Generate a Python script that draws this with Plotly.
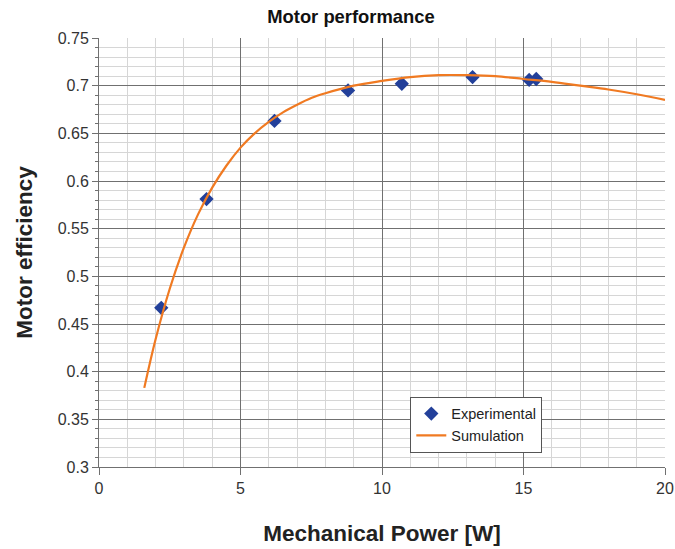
import plotly.graph_objects as go

# Experimental data
exp_power = [2.2, 3.8, 6.2, 8.8, 10.7, 13.2, 15.2, 15.45]
exp_eff = [0.467, 0.581, 0.663, 0.695, 0.702, 0.709, 0.706, 0.707]

# Simulation curve
sim_power = [1.6, 2.0, 2.5, 3.0, 3.5, 4.0, 4.5, 5.0, 5.5, 6.0, 6.5, 7.0,
             7.5, 8.0, 9.0, 10.0, 11.0, 12.0, 13.0, 14.0, 15.0, 16.0, 17.0,
             18.0, 19.0, 20.0]
sim_eff = [0.383, 0.434, 0.487, 0.530, 0.565, 0.593, 0.616, 0.635, 0.650,
           0.662, 0.672, 0.680, 0.687, 0.692, 0.700, 0.705, 0.709, 0.711, 0.711,
           0.710, 0.707, 0.704, 0.700, 0.696, 0.691, 0.685]

x_ticks = [0, 5, 10, 15, 20]
y_ticks = [0.3, 0.35, 0.4, 0.45, 0.5, 0.55, 0.6, 0.65, 0.7, 0.75]
y_tick_text = ["0.3", "0.35", "0.4", "0.45", "0.5", "0.55", "0.6", "0.65", "0.7", "0.75"]

FONT = "Liberation Sans, Arial, sans-serif"

fig = go.Figure()
fig.add_trace(go.Scatter(
    x=exp_power, y=exp_eff, mode="markers", name="Experimental",
    marker=dict(symbol="diamond", size=11, color="#23409a"),
))
fig.add_trace(go.Scatter(
    x=sim_power, y=sim_eff, mode="lines", name="Sumulation",
    line=dict(color="#f07a22", width=2.2, shape="spline", smoothing=1.0),
))

fig.update_layout(
    width=675, height=549,
    margin=dict(l=99, r=10, t=38, b=82),
    paper_bgcolor="white", plot_bgcolor="white",
    font=dict(family=FONT, color="#333333"),
    title=dict(text="<b>Motor performance</b>", x=0.52, xanchor="center",
               y=0.969, yanchor="middle", font=dict(size=18.4, color="#111111")),
    showlegend=True,
    legend=dict(x=0.55, y=0.164, xanchor="left", yanchor="top",
                bgcolor="white", bordercolor="#555555", borderwidth=1,
                font=dict(size=14.5, color="#222222"),
                tracegroupgap=0, itemwidth=30),
    xaxis=dict(
        range=[0, 20], tickvals=x_ticks, ticktext=[str(v) for v in x_ticks],
        showgrid=True, gridcolor="#707070", gridwidth=1,
        minor=dict(dtick=1, showgrid=True, gridcolor="#d6d6d6", gridwidth=1),
        showline=True, linecolor="#707070", linewidth=1,
        ticks="outside", ticklen=7, tickcolor="#707070",
        tickfont=dict(size=16, color="#333333"),
        ticklabeloverflow="allow",
        title=dict(text="<b>Mechanical Power [W]</b>",
                   font=dict(size=22.5, color="#222222"), standoff=29),
        zeroline=False, automargin=False,
    ),
    yaxis=dict(
        range=[0.3, 0.75], tickvals=y_ticks, ticktext=y_tick_text,
        showgrid=True, gridcolor="#707070", gridwidth=1,
        minor=dict(dtick=0.01, tick0=0.3, showgrid=True, gridcolor="#d6d6d6",
                   gridwidth=1, ticks="outside", ticklen=3, tickcolor="#707070"),
        showline=True, linecolor="#707070", linewidth=1,
        ticks="outside", ticklen=6, tickcolor="#707070",
        tickfont=dict(size=16, color="#333333"),
        title=dict(text="<b>Motor efficiency</b>",
                   font=dict(size=22.5, color="#222222"), standoff=18),
        zeroline=False, automargin=False,
    ),
)

fig.write_html("out.html",
               config={"displayModeBar": False},
               post_script="document.body.style.margin='0';document.body.style.overflow='hidden';")
